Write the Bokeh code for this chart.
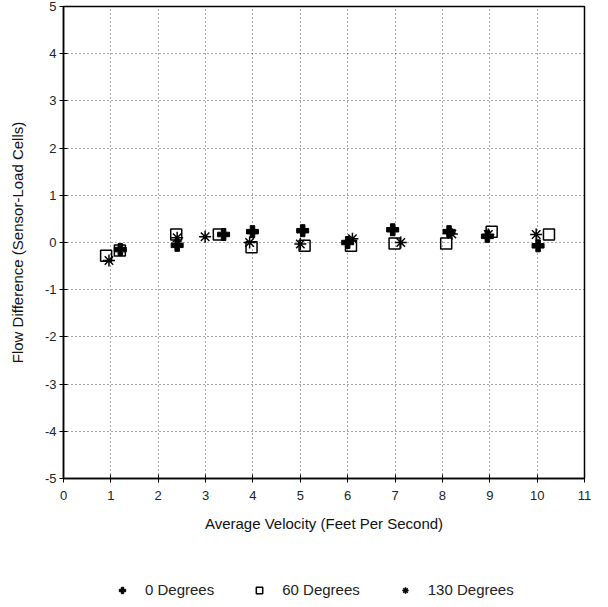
from bokeh.plotting import figure
from bokeh.layouts import column
from bokeh.models import Legend, LegendItem, FixedTicker, Range1d
from bokeh.embed import file_html
from bokeh.resources import INLINE

# 0 Degrees
x_0deg = [1.2, 2.4, 3.38, 3.99, 5.05, 6.0, 6.95, 8.14, 8.95, 10.02]
y_0deg = [-0.15, -0.06, 0.17, 0.23, 0.25, 0.0, 0.27, 0.23, 0.13, -0.07]
# 60 Degrees
x_60deg = [0.9, 1.19, 2.38, 3.28, 3.97, 5.09, 6.07, 6.99, 8.08, 9.04, 10.25]
y_60deg = [-0.28, -0.17, 0.17, 0.17, -0.1, -0.07, -0.07, -0.02, -0.02, 0.23, 0.17]
# 130 Degrees
x_130deg = [0.96, 2.4, 2.99, 3.93, 5.0, 6.1, 7.12, 8.2, 8.97, 9.98]
y_130deg = [-0.38, 0.1, 0.12, 0.0, -0.03, 0.08, 0.0, 0.18, 0.17, 0.17]

series_labels = ["0 Degrees", "60 Degrees", "130 Degrees"]
x_ticks = list(range(0, 12))
y_ticks = list(range(-5, 6))

FONT = "Liberation Sans"

p = figure(width=592, height=540, output_backend="svg", toolbar_location=None,
           x_range=Range1d(0, 11), y_range=Range1d(-5, 5),
           min_border_left=63, min_border_right=8, min_border_top=6,
           min_border_bottom=62)

p.xaxis.ticker = FixedTicker(ticks=x_ticks)
p.yaxis.ticker = FixedTicker(ticks=y_ticks)
p.yaxis.major_label_overrides = {t: str(t) for t in y_ticks}
for ax in (p.xaxis, p.yaxis):
    ax.axis_line_color = "black"
    ax.axis_line_width = 1.5
    ax.major_tick_line_color = "black"
    ax.major_tick_in = 4
    ax.major_tick_out = 4
    ax.minor_tick_line_color = None
    ax.major_label_text_font = FONT
    ax.major_label_text_font_size = "13px"
    ax.major_label_text_color = "#222222"
    ax.axis_label_text_font = FONT
    ax.axis_label_text_font_size = "15px"
    ax.axis_label_text_font_style = "normal"
    ax.axis_label_text_color = "#111111"

p.xaxis.axis_label = "Average Velocity (Feet Per Second)"
p.yaxis.axis_label = "Flow Difference (Sensor-Load Cells)"
p.xaxis.major_label_standoff = 8
p.yaxis.major_label_standoff = 3
p.xaxis.axis_label_standoff = 12
p.yaxis.axis_label_standoff = 16

p.grid.grid_line_color = "black"
p.grid.grid_line_dash = "1 3"
p.grid.grid_line_width = 1
p.grid.grid_line_alpha = 0.7

p.outline_line_color = "black"
p.outline_line_width = 1.5
p.background_fill_color = "white"
p.border_fill_color = "white"

p.scatter(x_0deg, y_0deg, marker="plus", size=12, color="black")
p.scatter(x_60deg, y_60deg, marker="square", size=11, fill_color=None,
          line_color="black", line_width=1.5)
p.scatter(x_130deg, y_130deg, marker="asterisk", size=12,
          line_color="black", line_width=1.5)

# legend strip below the chart (its sample glyphs sit outside its range)
lg = figure(width=592, height=58, output_backend="svg", toolbar_location=None,
            x_range=Range1d(0, 1), y_range=Range1d(0, 1),
            x_axis_location=None, y_axis_location=None,
            min_border_left=0, min_border_right=0, min_border_top=0,
            min_border_bottom=0)
lg.grid.visible = False
lg.outline_line_color = None
lg.border_fill_color = "white"
l0 = lg.scatter([-5], [-5], marker="plus", size=12, color="black")
l60 = lg.scatter([-5], [-5], marker="square", size=11, fill_color=None,
                 line_color="black", line_width=1.5)
l130 = lg.scatter([-5], [-5], marker="asterisk", size=12,
                  line_color="black", line_width=1.5)

legend = Legend(items=[
    LegendItem(label=series_labels[0], renderers=[l0]),
    LegendItem(label=series_labels[1], renderers=[l60]),
    LegendItem(label=series_labels[2], renderers=[l130]),
], orientation="horizontal", location=(50, 0))
legend.label_text_font = FONT
legend.label_text_font_size = "15px"
legend.label_text_color = "#222222"
legend.label_standoff = 14
legend.border_line_color = None
legend.background_fill_alpha = 0
legend.spacing = 36
legend.padding = 2
legend.margin = 0
legend.glyph_height = 16
legend.glyph_width = 18
lg.add_layout(legend, "center")

layout = column(p, lg, spacing=0)
html = file_html(layout, INLINE)
open("out.html", "w").write(html)
